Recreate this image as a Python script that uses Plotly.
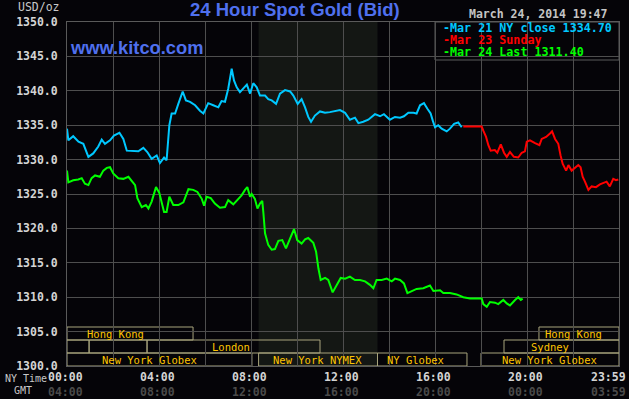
import plotly.graph_objects as go

# ---------------- data ----------------
cyan_h = [0, 0.06, 0.27, 0.5, 0.71, 0.93, 1.14, 1.36, 1.51, 1.65, 1.87, 2.04, 2.28, 2.45, 2.6, 2.81, 3.1, 3.32, 3.49, 3.68,
          3.9, 4.04, 4.22, 4.33, 4.38, 4.45, 4.55, 4.7, 4.84, 5.03, 5.17, 5.35, 5.57, 5.78, 5.93, 6.14, 6.36, 6.58, 6.72,
          6.87, 7.01, 7.09, 7.16, 7.26, 7.38, 7.52, 7.7, 7.82, 7.96, 8.1, 8.25, 8.39, 8.61, 8.75, 8.9, 9.09, 9.26, 9.48,
          9.7, 9.84, 10.03, 10.2, 10.35, 10.49, 10.61, 10.78, 11.0, 11.22, 11.43, 11.65, 11.87, 12.09, 12.3, 12.52, 12.67,
          12.88, 13.1, 13.39, 13.61, 13.78, 14.04, 14.26, 14.48, 14.65, 14.84, 15.06, 15.2, 15.35, 15.52, 15.67, 15.81,
          15.9, 16.0, 16.14, 16.29, 16.51, 16.65, 16.83, 17.01, 17.16]
cyan_v = [1334.5, 1332.8, 1333.4, 1332.6, 1332.3, 1330.4, 1330.9, 1331.9, 1332.9, 1332.3, 1332.8, 1333.5, 1333.9, 1333.0,
          1331.3, 1331.3, 1331.2, 1331.7, 1331.1, 1330.1, 1330.6, 1329.5, 1330.3, 1329.9, 1332.8, 1335.0, 1336.7, 1336.7,
          1338.1, 1339.9, 1338.6, 1338.4, 1337.9, 1337.1, 1336.7, 1338.2, 1337.9, 1337.6, 1338.5, 1338.4, 1340.3, 1341.7,
          1343.2, 1341.5, 1340.5, 1339.8, 1340.5, 1340.9, 1339.6, 1341.1, 1340.5, 1339.3, 1339.3, 1338.8, 1338.6, 1338.1,
          1339.6, 1340.1, 1339.9, 1339.3, 1338.1, 1338.8, 1337.6, 1336.2, 1335.5, 1336.4, 1337.0, 1336.8, 1336.9, 1337.0,
          1337.2, 1336.8, 1335.8, 1336.1, 1335.3, 1335.5, 1335.8, 1336.6, 1336.3, 1336.6, 1335.8, 1336.2, 1336.1, 1336.3,
          1336.8, 1336.8, 1336.7, 1337.9, 1338.2, 1337.4, 1336.7, 1335.7, 1334.7, 1335.0, 1334.5, 1334.1, 1334.5, 1335.2,
          1335.4, 1334.7]

red_h = [17.23, 18.03, 18.1, 18.22, 18.32, 18.42, 18.6, 18.71, 18.86, 19.0, 19.12, 19.26, 19.43, 19.62, 19.77, 19.91,
         19.99, 20.13, 20.35, 20.54, 20.64, 20.83, 21.0, 21.09, 21.22, 21.36, 21.46, 21.55, 21.7, 21.8, 21.94, 22.09,
         22.23, 22.33, 22.42, 22.52, 22.67, 22.81, 23.0, 23.17, 23.32, 23.46, 23.6, 23.75, 23.87, 23.97]
red_v = [1334.8, 1334.8, 1334.2, 1333.3, 1332.1, 1331.3, 1331.4, 1331.0, 1332.2, 1331.0, 1330.4, 1331.1, 1330.4, 1330.3,
         1331.0, 1331.2, 1332.6, 1332.8, 1332.4, 1332.1, 1333.0, 1333.3, 1333.8, 1334.1, 1333.0, 1332.3, 1330.6, 1329.4,
         1328.4, 1329.2, 1328.4, 1328.8, 1329.2, 1328.9, 1327.5, 1326.8, 1325.6, 1326.1, 1326.0, 1326.4, 1326.6, 1326.8,
         1326.1, 1327.2, 1327.0, 1327.1]

green_h = [0, 0.06, 0.27, 0.49, 0.64, 0.78, 0.93, 1.07, 1.22, 1.43, 1.58, 1.73, 1.87, 2.01, 2.23, 2.45, 2.67, 2.81, 2.96,
           3.06, 3.25, 3.43, 3.54, 3.68, 3.87, 4.01, 4.12, 4.22, 4.33, 4.45, 4.62, 4.84, 5.06, 5.28, 5.49, 5.67, 5.86,
           5.96, 6.07, 6.25, 6.43, 6.65, 6.87, 7.01, 7.23, 7.38, 7.59, 7.74, 7.84, 7.96, 8.03, 8.17, 8.28, 8.39, 8.49,
           8.54, 8.61, 8.75, 8.9, 9.04, 9.19, 9.36, 9.52, 9.67, 9.77, 9.87, 10.01, 10.2, 10.35, 10.49, 10.71, 10.83,
           10.93, 11.03, 11.22, 11.36, 11.55, 11.72, 11.9, 12.09, 12.3, 12.52, 12.74, 12.96, 13.17, 13.32, 13.46, 13.68,
           13.9, 14.12, 14.26, 14.48, 14.65, 14.8, 14.99, 15.2, 15.49, 15.78, 15.93, 16.22, 16.36, 16.65, 16.94, 17.23,
           17.52, 18.03, 18.1, 18.25, 18.39, 18.61, 18.75, 18.97, 19.12, 19.26, 19.48, 19.62, 19.73, 19.81]
green_v = [1328.4, 1326.7, 1327.0, 1327.1, 1327.3, 1326.5, 1326.3, 1327.3, 1327.7, 1327.5, 1328.4, 1328.8, 1328.9, 1328.0,
           1327.3, 1327.2, 1327.5, 1326.9, 1326.3, 1324.4, 1323.1, 1323.4, 1322.9, 1323.9, 1326.0, 1325.2, 1323.8, 1322.4,
           1322.4, 1324.6, 1323.4, 1323.4, 1323.8, 1325.7, 1325.6, 1325.3, 1324.3, 1323.3, 1324.6, 1324.4, 1323.6, 1323.0,
           1323.1, 1324.1, 1323.5, 1324.1, 1324.8, 1325.6, 1326.0, 1324.6, 1325.0, 1324.3, 1322.9, 1323.6, 1324.0, 1322.2,
           1319.3, 1317.6, 1316.9, 1317.0, 1318.2, 1318.3, 1317.1, 1318.3, 1319.0, 1319.9, 1318.3, 1317.8, 1318.4, 1318.6,
           1317.9, 1316.6, 1314.2, 1312.5, 1312.8, 1312.5, 1310.7, 1311.8, 1312.8, 1312.7, 1313.0, 1312.5, 1312.5, 1312.3,
           1311.8, 1311.3, 1312.5, 1312.5, 1312.7, 1312.3, 1312.7, 1312.5, 1312.0, 1310.6, 1310.9, 1311.2, 1311.3, 1311.7,
           1310.9, 1311.0, 1310.6, 1310.6, 1310.4, 1310.0, 1309.8, 1309.8, 1309.0, 1308.6, 1309.3, 1309.2, 1309.0, 1309.6,
           1309.1, 1308.8, 1309.6, 1310.0, 1309.6, 1309.8]

legend_texts = ["-Mar 21 NY close 1334.70", "-Mar 23 Sunday", "-Mar 24 Last 1311.40"]

tick_hours = [0, 4, 8, 12, 16, 20, 24]
ny_labels = ["00:00", "04:00", "08:00", "12:00", "16:00", "20:00", "23:59"]
gmt_labels = ["04:00", "08:00", "12:00", "16:00", "20:00", "00:00", "03:59"]

# market session boxes: (row, start hour, end hour)
session_rows = [0, 0, 1, 1, 1, 1, 2, 2, 2, 2]
session_start = [0, 20.52, 0, 0.96, 3.48, 19.0, 0, 8.33, 13.5, 18.0]
session_end = [5.48, 24, 0.96, 3.48, 11.0, 24, 8.04, 13.5, 17.39, 24]
session_names = ["Hong Kong", "Hong Kong", "", "", "London", "Sydney", "New York Globex", "New York NYMEX",
                 "NY Globex", "New York Globex"]
session_label_x = [2.09, 22.04, 0, 0, 7.13, 21.0, 3.6, 10.9, 15.17, 20.96]

nymex_start, nymex_end = 8.33, 13.5

# ---------------- figure ----------------
W, H = 629, 399
L, R, T, B = 67, 10, 22, 33
PW, PH = W - L - R, H - T - B


def px(p):
    return (p - L) / PW


def py(p):
    return (H - B - p) / PH


BG = "#050408"
GRID = "#4e4e4e"
BLUE = "#4f70ee"
MONO = "DejaVu Sans Mono"

fig = go.Figure()
fig.add_trace(go.Scatter(x=cyan_h, y=cyan_v, mode="lines", line=dict(color="#00c8ff", width=2), showlegend=False))
fig.add_trace(go.Scatter(x=red_h, y=red_v, mode="lines", line=dict(color="#ff0000", width=2), showlegend=False))
fig.add_trace(go.Scatter(x=green_h, y=green_v, mode="lines", line=dict(color="#00ff00", width=2), showlegend=False))

shapes = []
# NYMEX shaded region
shapes.append(dict(type="rect", xref="x", yref="paper", x0=nymex_start, x1=nymex_end, y0=0, y1=1,
                   fillcolor="#141714", line=dict(width=0), layer="below"))
# legend box
shapes.append(dict(type="rect", xref="paper", yref="paper", x0=px(435), x1=1, y0=py(60), y1=1,
                   fillcolor=BG, line=dict(color="#5a5a5a", width=1), layer="between"))

row_h = 13 / PH
annotations = []
for r, s, e, name, lx in zip(session_rows, session_start, session_end, session_names, session_label_x):
    y1 = (3 - r) * row_h
    y0 = (2 - r) * row_h
    shapes.append(dict(type="rect", xref="x", yref="paper", x0=s, x1=e, y0=y0, y1=y1,
                       line=dict(color="#a8a47c", width=1), fillcolor="rgba(0,0,0,0)", layer="between"))
    if name:
        annotations.append(dict(x=lx, y=(y0 + y1) / 2, xref="x", yref="paper", text=name, showarrow=False,
                                xanchor="center", yanchor="middle",
                                font=dict(family=MONO, size=10.5, color="#ffc400")))

# x tick labels (two rows)
for i, (h, a, g) in enumerate(zip(tick_hours, ny_labels, gmt_labels)):
    shift = -2 if i < len(tick_hours) - 1 else -11
    annotations.append(dict(x=h, y=py(377), xref="x", yref="paper", text=a, showarrow=False,
                            xanchor="center", yanchor="middle", xshift=shift,
                            font=dict(family=MONO, size=11.5, color="#d4d4d4", weight="bold")))
    annotations.append(dict(x=h, y=py(392), xref="x", yref="paper", text=g, showarrow=False,
                            xanchor="center", yanchor="middle", xshift=shift,
                            font=dict(family=MONO, size=11.5, color="#4a4a4a", weight="bold")))

annotations += [
    dict(x=px(3), y=py(378), xref="paper", yref="paper", text="NY Time", showarrow=False, xanchor="left",
         yanchor="middle", font=dict(family=MONO, size=10, color="#c8c8c8")),
    dict(x=px(12), y=py(391), xref="paper", yref="paper", text="GMT", showarrow=False, xanchor="left",
         yanchor="middle", font=dict(family=MONO, size=10, color="#c8c8c8")),
    dict(x=px(62), y=py(7), xref="paper", yref="paper", text="USD/oz", showarrow=False, xanchor="right",
         yanchor="middle", font=dict(family=MONO, size=11.5, color="#c8c8c8")),
    dict(x=px(294.5), y=py(10), xref="paper", yref="paper", text="24 Hour Spot Gold (Bid)", showarrow=False,
         xanchor="center", yanchor="middle",
         font=dict(family="Liberation Sans", size=18.5, color=BLUE, weight="bold")),
    dict(x=px(68), y=py(47), xref="paper", yref="paper", text="www.kitco.com", showarrow=False,
         xanchor="left", yanchor="middle",
         font=dict(family="Liberation Sans", size=18.3, color=BLUE, weight="bold")),
    dict(x=px(538.5), y=py(14), xref="paper", yref="paper", text="March 24, 2014 19:47", showarrow=False,
         xanchor="center", yanchor="middle", font=dict(family=MONO, size=11.5, color="#c4c4c4", weight="bold")),
]
leg_colors = ["#00c8ff", "#ff0000", "#00ff00"]
leg_y = [28.3, 40.3, 52.3]
for t, c, yy in zip(legend_texts, leg_colors, leg_y):
    annotations.append(dict(x=px(441), y=py(yy), xref="paper", yref="paper", text=t, showarrow=False,
                            xanchor="left", yanchor="middle",
                            font=dict(family=MONO, size=11.7, color=c, weight="bold")))

fig.update_layout(
    width=W, height=H,
    margin=dict(l=L, r=R, t=T, b=B, pad=0),
    paper_bgcolor=BG, plot_bgcolor=BG,
    showlegend=False,
    shapes=shapes, annotations=annotations,
    xaxis=dict(range=[0, 24], dtick=2, tick0=0, showticklabels=False, showgrid=True, gridcolor=GRID,
               gridwidth=1, zeroline=False, showline=True, linecolor="#5a5a5a", linewidth=1, mirror=True,
               ticks="", fixedrange=True),
    yaxis=dict(range=[1300, 1350], dtick=5, tick0=1300, tickformat=".1f", showgrid=True, gridcolor=GRID,
               gridwidth=1, zeroline=False, showline=True, linecolor="#5a5a5a", linewidth=1, mirror=True,
               ticks="", ticklabelstandoff=6,
               tickfont=dict(family=MONO, size=11.5, color="#d4d4d4", weight="bold"), fixedrange=True),
)

fig.write_html(
    "out.html",
    config={"displayModeBar": False},
    post_script="document.body.style.margin='0';document.body.style.background='#050408';",
)
